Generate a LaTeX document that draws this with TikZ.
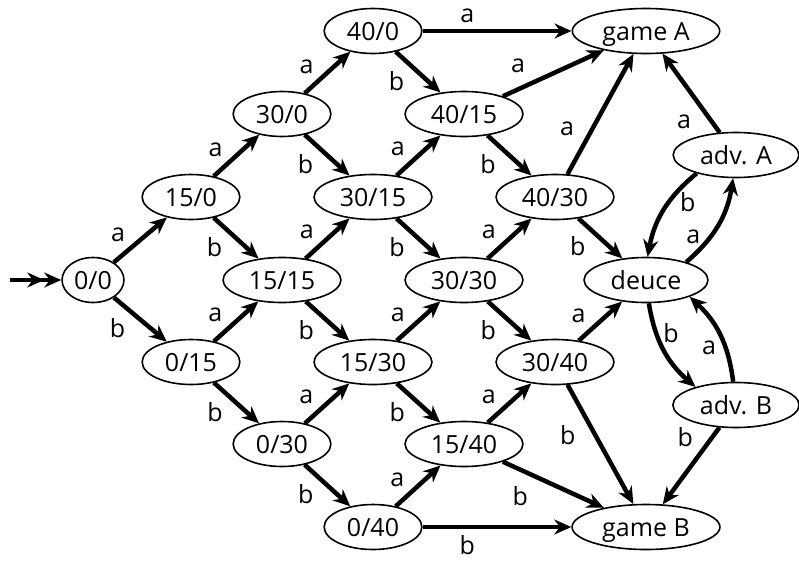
\documentclass[tikz,border=0pt]{standalone}
\usepackage{fontspec}
\setmainfont{Open Sans}
\usetikzlibrary{arrows.meta,shapes.geometric}
\begin{document}
\begin{tikzpicture}[x=1pt,y=-1pt,
  st/.style={draw, line width=1.6pt, ellipse, inner xsep=8.5pt, inner ysep=0pt,
    minimum height=45pt, text height=22pt, text depth=4pt,
    font=\fontsize{25}{30}\selectfont},
  edge/.style={line width=4.5pt, -{Stealth[length=17pt,width=15pt,inset=5.5pt]}},
  lab/.style={font=\fontsize{25}{30}\selectfont, inner sep=4pt},
  la/.style={lab, pos=.33, above left},
  lb/.style={lab, pos=.33, below left}]
\useasboundingbox (0,0) rectangle (799,560);
% nodes
\node[st, inner xsep=3pt] (n00) at (93,280) {0/0};
\node[st] (n10) at (191,197) {15/0};
\node[st] (n01) at (191,362) {0/15};
\node[st] (n20) at (282,114) {30/0};
\node[st] (n11) at (282,280) {15/15};
\node[st] (n02) at (282,444) {0/30};
\node[st] (n30) at (373,31) {40/0};
\node[st] (n21) at (373,197) {30/15};
\node[st] (n12) at (373,362) {15/30};
\node[st] (n03) at (373,527) {0/40};
\node[st] (n31) at (464,114) {40/15};
\node[st] (n22) at (464,280) {30/30};
\node[st] (n13) at (464,444) {15/40};
\node[st] (n32) at (555,197) {40/30};
\node[st] (n23) at (555,362) {30/40};
\node[st] (gA) at (646,31) {game A};
\node[st] (deuce) at (646,280) {deuce};
\node[st] (gB) at (646,527) {game B};
\node[st] (advA) at (736,155) {adv. A};
\node[st] (advB) at (736,405) {adv. B};
\coordinate (init) at (10,280);
% initial arrow
\draw[line width=4.5pt, -{Stealth[length=17pt,width=15pt,inset=5.5pt]Stealth[length=17pt,width=15pt,inset=5.5pt]}] (init) -- (n00);
% a edges in grid
\draw[edge] (n00) -- node[la] {a} (n10);
\draw[edge] (n10) -- node[la] {a} (n20);
\draw[edge] (n20) -- node[la] {a} (n30);
\draw[edge] (n01) -- node[la] {a} (n11);
\draw[edge] (n11) -- node[la] {a} (n21);
\draw[edge] (n21) -- node[la] {a} (n31);
\draw[edge] (n02) -- node[la] {a} (n12);
\draw[edge] (n12) -- node[la] {a} (n22);
\draw[edge] (n22) -- node[la] {a} (n32);
\draw[edge] (n03) -- node[la] {a} (n13);
\draw[edge] (n13) -- node[la] {a} (n23);
% b edges in grid
\draw[edge] (n00) -- node[lb] {b} (n01);
\draw[edge] (n10) -- node[lb] {b} (n11);
\draw[edge] (n20) -- node[lb] {b} (n21);
\draw[edge] (n30) -- node[lb] {b} (n31);
\draw[edge] (n01) -- node[lb] {b} (n02);
\draw[edge] (n11) -- node[lb] {b} (n12);
\draw[edge] (n21) -- node[lb] {b} (n22);
\draw[edge] (n31) -- node[lb] {b} (n32);
\draw[edge] (n02) -- node[lb] {b} (n03);
\draw[edge] (n12) -- node[lb] {b} (n13);
\draw[edge] (n22) -- node[lb] {b} (n23);
% to game A
\draw[edge] (n30) -- node[lab, pos=.3, above, inner sep=6pt] {a} (gA);
\draw[edge] (n31) -- node[lab, pos=.31, above left, inner sep=7pt] {a} (gA);
\draw[edge] (n32) -- node[lab, pos=.24, above left, inner sep=7pt] {a} (gA);
\draw[edge] (advA) -- node[lab, pos=.34, below left, inner sep=7pt] {a} (gA);
% to deuce
\draw[edge] (n32) -- node[lab, pos=.3, below left] {b} (deuce);
\draw[edge] (n23) -- node[lab, pos=.3, above left] {a} (deuce);
% to game B
\draw[edge] (n23) -- node[lab, pos=.26, below left, inner sep=7pt] {b} (gB);
\draw[edge] (n13) -- node[lab, pos=.34, below left, inner sep=7pt] {b} (gB);
\draw[edge] (n03) -- node[lab, pos=.3, below, inner sep=1pt, yshift=-5pt] {b} (gB);
\draw[edge] (advB) -- node[lab, pos=.34, above left, inner sep=5pt] {b} (gB);
% deuce / advantages
\draw[edge] (deuce.24) to[bend right=20] node[lab, pos=.35, left, inner sep=8pt] {a} (advA.263);
\draw[edge] (advA.205) to[bend right=20] node[lab, pos=.4, right, inner sep=9pt] {b} (deuce.86);
\draw[edge] (deuce.277) to[bend right=20] node[lab, pos=.3, right, inner sep=5pt] {b} (advB.156);
\draw[edge] (advB.97) to[bend right=20] node[lab, pos=.35, left, inner sep=7pt] {a} (deuce.339);
\end{tikzpicture}
\end{document}
